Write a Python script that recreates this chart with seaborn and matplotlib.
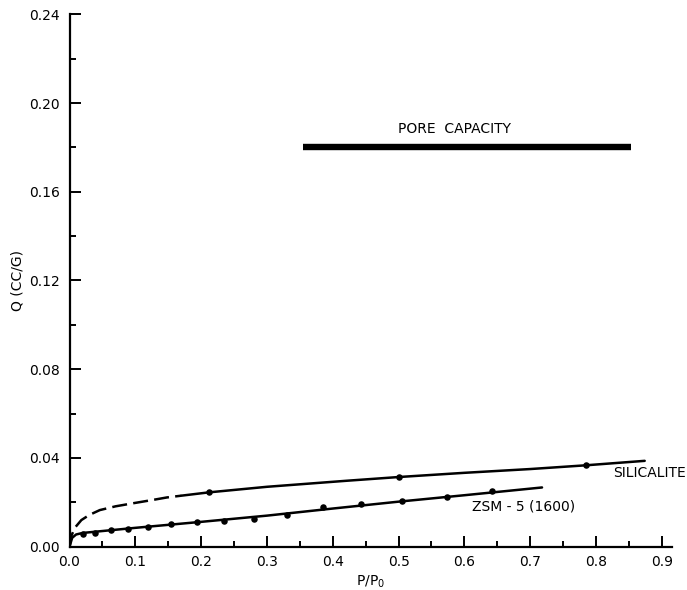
import matplotlib
matplotlib.use("Agg")
import matplotlib.pyplot as plt
from matplotlib.ticker import MultipleLocator, FormatStrFormatter
import numpy as np
import pandas as pd
import seaborn as sns

# ---- data -------------------------------------------------------------
# Silicalite isotherm: extrapolated (dashed) low-pressure part and measured (solid) part
sil_dash_p = [0.0, 0.003, 0.008, 0.018, 0.030, 0.046, 0.070, 0.097, 0.125, 0.148, 0.170]
sil_dash_q = [0.0, 0.0050, 0.0085, 0.0120, 0.0143, 0.0165, 0.0182, 0.0196, 0.0210, 0.0222, 0.0230]
sil_line_p = [0.170, 0.212, 0.300, 0.420, 0.500, 0.600, 0.700, 0.785, 0.874]
sil_line_q = [0.0230, 0.0245, 0.0270, 0.0297, 0.0314, 0.0333, 0.0350, 0.0367, 0.0387]
sil_pts_p = [0.212, 0.500, 0.785]
sil_pts_q = [0.0245, 0.0316, 0.0367]

# ZSM-5 (1600) isotherm
zsm_line_p = [0.0, 0.004, 0.010, 0.020, 0.100, 0.200, 0.300, 0.400, 0.500, 0.600, 0.718]
zsm_line_q = [0.0, 0.0040, 0.0055, 0.0062, 0.0085, 0.0112, 0.0140, 0.0172, 0.0203, 0.0232, 0.0267]
zsm_pts_p = [0.020, 0.039, 0.063, 0.089, 0.120, 0.154, 0.193, 0.235, 0.281, 0.331,
             0.385, 0.443, 0.505, 0.574, 0.642]
zsm_pts_q = [0.0059, 0.0063, 0.0074, 0.0080, 0.0090, 0.0101, 0.0110, 0.0115, 0.0125, 0.0143,
             0.0178, 0.0192, 0.0207, 0.0225, 0.0249]

# Pore capacity level
pore_p = [0.355, 0.853]
pore_q = [0.18, 0.18]

x_ticks = [0.0, 0.1, 0.2, 0.3, 0.4, 0.5, 0.6, 0.7, 0.8, 0.9]
y_ticks = [0.00, 0.04, 0.08, 0.12, 0.16, 0.20, 0.24]

# ---- figure -----------------------------------------------------------
sns.set_theme(style="ticks")
plt.rcParams["font.family"] = ["DejaVu Sans"]
plt.rcParams["mathtext.fontset"] = "dejavusans"

fig = plt.figure(figsize=(6.87, 5.90), dpi=100)
ax = fig.add_axes([0.1012, 0.0734, 0.8765, 0.9024])

ink = "black"
lw = 1.8

sns.lineplot(x=sil_dash_p, y=sil_dash_q, ax=ax, color=ink, lw=lw,
             sort=False, estimator=None)
ax.lines[-1].set_dashes((6, 2.5))
sns.lineplot(x=sil_line_p, y=sil_line_q, ax=ax, color=ink, lw=lw,
             sort=False, estimator=None)
sns.lineplot(x=zsm_line_p, y=zsm_line_q, ax=ax, color=ink, lw=lw,
             sort=False, estimator=None)
sns.scatterplot(x=sil_pts_p, y=sil_pts_q, ax=ax, color=ink, s=22,
                edgecolor=ink, linewidth=0, zorder=5)
sns.scatterplot(x=zsm_pts_p, y=zsm_pts_q, ax=ax, color=ink, s=22,
                edgecolor=ink, linewidth=0, zorder=5)
sns.lineplot(x=pore_p, y=pore_q, ax=ax, color=ink, lw=4.6,
             sort=False, estimator=None, solid_capstyle="butt")

ax.text(0.585, 0.1850, "PORE  CAPACITY", ha="center", va="bottom",
        fontsize=10, color=ink)
ax.text(0.826, 0.0333, "SILICALITE", ha="left", va="center",
        fontsize=10, color=ink)
ax.text(0.611, 0.0180, "ZSM - 5 (1600)", ha="left", va="center",
        fontsize=10, color=ink)

ax.set_xlim(0, 0.915)
ax.set_ylim(0, 0.24)
ax.set_xticks(x_ticks)
ax.set_yticks(y_ticks)
ax.xaxis.set_minor_locator(MultipleLocator(0.05))
ax.yaxis.set_minor_locator(MultipleLocator(0.02))
ax.xaxis.set_major_formatter(FormatStrFormatter("%.1f"))
ax.yaxis.set_major_formatter(FormatStrFormatter("%.2f"))

ax.tick_params(axis="both", which="both", direction="in", colors=ink,
               labelsize=10, width=1.4)
ax.tick_params(axis="both", which="major", length=8)
ax.tick_params(axis="both", which="minor", length=4)
ax.tick_params(axis="x", which="major", pad=6)
ax.tick_params(axis="y", which="major", pad=7)

sns.despine(ax=ax)
for side in ("left", "bottom"):
    ax.spines[side].set_linewidth(1.6)
    ax.spines[side].set_color(ink)

ax.set_xlabel("P/P$_0$", fontsize=10, color=ink, labelpad=3)
ax.set_ylabel("Q (CC/G)", fontsize=10, color=ink, labelpad=3)
ax.set_facecolor("white")
fig.patch.set_facecolor("white")

fig.savefig("out.png", dpi=100, facecolor="white")
